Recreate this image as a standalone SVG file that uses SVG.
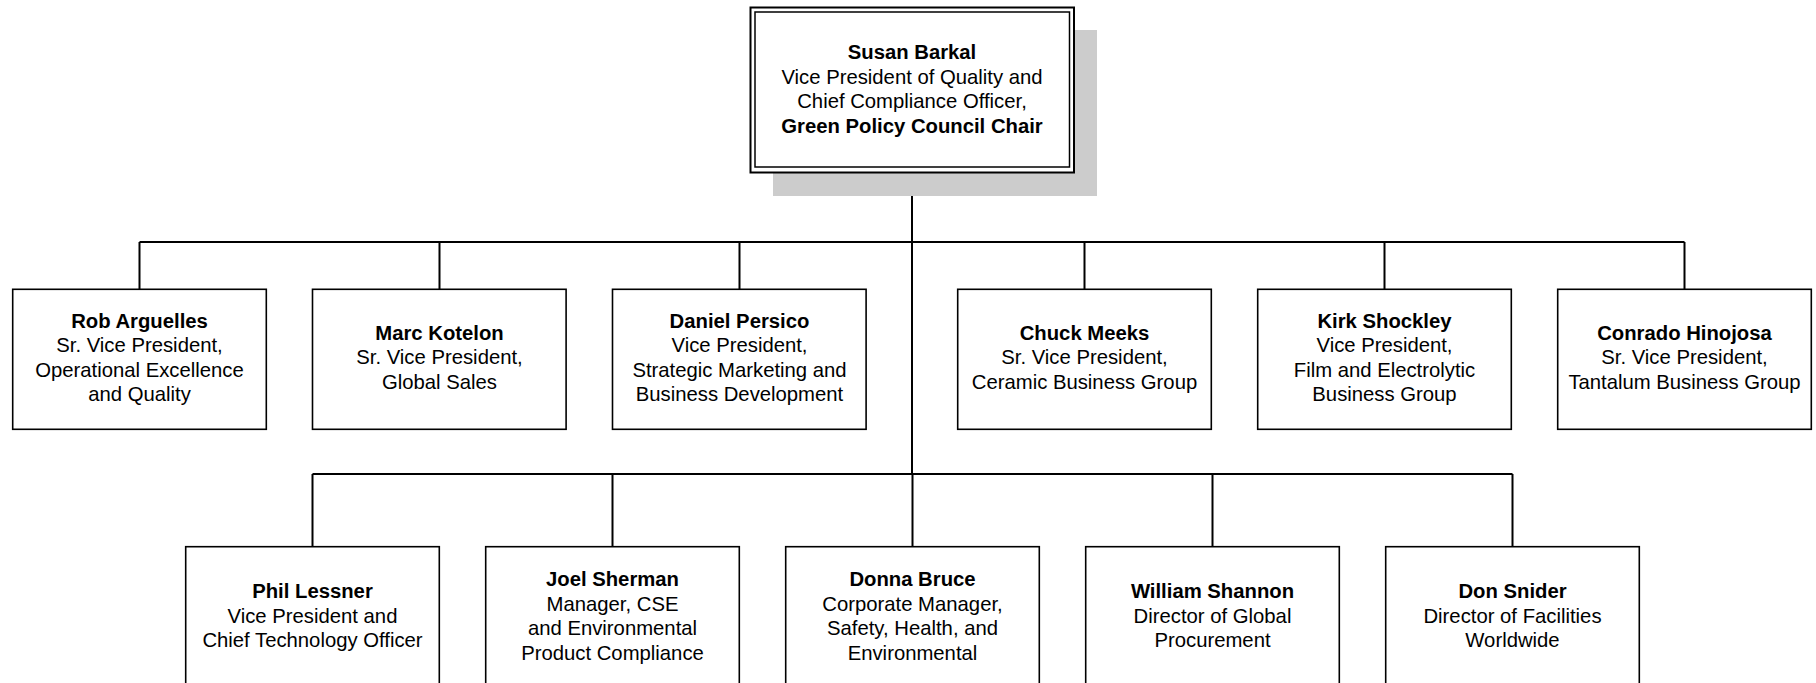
<svg xmlns="http://www.w3.org/2000/svg" width="1816" height="683" viewBox="0 0 1816 683">
<style>
.box{fill:#fff;stroke:#000;stroke-width:1.6}
.conn{fill:none;stroke:#000;stroke-width:2}
text{font-family:"Liberation Sans",Arial,sans-serif;font-size:20.3px;fill:#000;text-anchor:middle}
.b{font-weight:bold}
</style>
<rect width="1816" height="683" fill="#fff"/>
<g id="connectors">
<path class="conn" d="M912 172 V474"/>
<path class="conn" d="M139.5 242 H1684.5 M139.5 242 V289 M439.5 242 V289 M739.5 242 V289 M1084.5 242 V289 M1384.5 242 V289 M1684.5 242 V289"/>
<path class="conn" d="M312.5 474 H1512.5 M312.5 474 V547 M612.5 474 V547 M912.5 474 V547 M1212.5 474 V547 M1512.5 474 V547"/>
</g>
<g id="susan">
<rect x="773" y="30" width="324" height="166" fill="#cccccc"/>
<rect x="750.5" y="7.5" width="323.5" height="165" fill="#fff" stroke="#000" stroke-width="2"/>
<rect x="755" y="12" width="314.5" height="155" fill="none" stroke="#000" stroke-width="1.5"/>
<text x="912" y="59" class="b">Susan Barkal</text>
<text x="912" y="83.5">Vice President of Quality and</text>
<text x="912" y="108.2">Chief Compliance Officer,</text>
<text x="912" y="133" class="b">Green Policy Council Chair</text>
</g>
<g id="rob">
<rect class="box" x="12.7" y="289.3" width="253.6" height="140"/>
<text x="139.5" y="327.5" class="b">Rob Arguelles</text>
<text x="139.5" y="352">Sr. Vice President,</text>
<text x="139.5" y="376.7">Operational Excellence</text>
<text x="139.5" y="401.4">and Quality</text>
</g>
<g id="marc">
<rect class="box" x="312.5" y="289.3" width="253.6" height="140"/>
<text x="439.5" y="339.5" class="b">Marc Kotelon</text>
<text x="439.5" y="364">Sr. Vice President,</text>
<text x="439.5" y="388.7">Global Sales</text>
</g>
<g id="daniel">
<rect class="box" x="612.5" y="289.3" width="253.6" height="140"/>
<text x="739.5" y="327.5" class="b">Daniel Persico</text>
<text x="739.5" y="352">Vice President,</text>
<text x="739.5" y="376.7">Strategic Marketing and</text>
<text x="739.5" y="401.4">Business Development</text>
</g>
<g id="chuck">
<rect class="box" x="957.7" y="289.3" width="253.6" height="140"/>
<text x="1084.5" y="339.5" class="b">Chuck Meeks</text>
<text x="1084.5" y="364">Sr. Vice President,</text>
<text x="1084.5" y="388.7">Ceramic Business Group</text>
</g>
<g id="kirk">
<rect class="box" x="1257.7" y="289.3" width="253.6" height="140"/>
<text x="1384.5" y="327.5" class="b">Kirk Shockley</text>
<text x="1384.5" y="352">Vice President,</text>
<text x="1384.5" y="376.7">Film and Electrolytic</text>
<text x="1384.5" y="401.4">Business Group</text>
</g>
<g id="conrado">
<rect class="box" x="1557.7" y="289.3" width="253.6" height="140"/>
<text x="1684.5" y="339.5" class="b">Conrado Hinojosa</text>
<text x="1684.5" y="364">Sr. Vice President,</text>
<text x="1684.5" y="388.7">Tantalum Business Group</text>
</g>
<g id="phil">
<rect class="box" x="185.7" y="546.7" width="253.6" height="150"/>
<text x="312.5" y="597.7" class="b">Phil Lessner</text>
<text x="312.5" y="622.5">Vice President and</text>
<text x="312.5" y="647.2">Chief Technology Officer</text>
</g>
<g id="joel">
<rect class="box" x="485.7" y="546.7" width="253.6" height="150"/>
<text x="612.5" y="586" class="b">Joel Sherman</text>
<text x="612.5" y="610.5">Manager, CSE</text>
<text x="612.5" y="635.2">and Environmental</text>
<text x="612.5" y="660">Product Compliance</text>
</g>
<g id="donna">
<rect class="box" x="785.7" y="546.7" width="253.6" height="150"/>
<text x="912.5" y="586" class="b">Donna Bruce</text>
<text x="912.5" y="610.5">Corporate Manager,</text>
<text x="912.5" y="635.2">Safety, Health, and</text>
<text x="912.5" y="660">Environmental</text>
</g>
<g id="william">
<rect class="box" x="1085.7" y="546.7" width="253.6" height="150"/>
<text x="1212.5" y="597.7" class="b">William Shannon</text>
<text x="1212.5" y="622.5">Director of Global</text>
<text x="1212.5" y="647.2">Procurement</text>
</g>
<g id="don">
<rect class="box" x="1385.7" y="546.7" width="253.6" height="150"/>
<text x="1512.5" y="597.7" class="b">Don Snider</text>
<text x="1512.5" y="622.5">Director of Facilities</text>
<text x="1512.5" y="647.2">Worldwide</text>
</g>
</svg>
